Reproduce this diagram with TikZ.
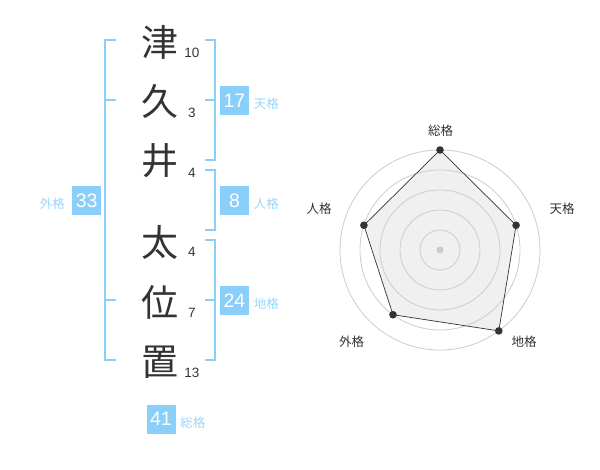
\documentclass[tikz,border=0pt]{standalone}
\usepackage{fontspec}
\setmainfont{Liberation Sans}
\newfontfamily\jp{Noto Sans CJK JP}
\usetikzlibrary{positioning}
\definecolor{kakublue}{HTML}{8ACEFA}
\definecolor{ink}{HTML}{333333}

\begin{document}
\begin{tikzpicture}[x=1pt,y=-1pt,
    %
    kanji/.style={font=\jp\fontsize{37}{37}\selectfont, text=ink, inner sep=0pt},
    stroke/.style={font=\fontsize{13.5}{13.5}\selectfont, text=ink, inner sep=0pt},
    score/.style={fill=kakublue, text=white, minimum size=29pt, inner sep=0pt,
    font=\fontsize{19.5}{19.5}\selectfont},
    kaku/.style={font=\jp\fontsize{12.5}{12.5}\selectfont, text=kakublue!85, inner sep=0pt},
    bracket/.style={draw=kakublue, line width=2pt},
    ring/.style={draw=black!20, line width=0.8pt},
    axis/.style={font=\jp\fontsize{12.5}{12.5}\selectfont, text=ink, inner sep=0pt}]
    \useasboundingbox (0,0) rectangle (600,470);
    % name
    \node[kanji] (k1) at (160,42)  {津};
    \node[kanji] (k2) at (160,101) {久};
    \node[kanji] (k3) at (160,161) {井};
    \node[kanji] (k4) at (160,242) {太};
    \node[kanji] (k5) at (160,302) {位};
    \node[kanji] (k6) at (160,362) {置};
    \node[stroke] (s1) at (192,53)  {10};
    \node[stroke] (s2) at (192,113) {3};
    \node[stroke] (s3) at (192,173) {4};
    \node[stroke] (s4) at (192,252) {4};
    \node[stroke] (s5) at (192,313) {7};
    \node[stroke] (s6) at (192,373) {13};
    % brackets
    \draw[bracket] (116,40) -- (105,40) -- (105,360) -- (116,360);
    \draw[bracket] (105,100) -- (116,100) (105,300) -- (116,300);
    \draw[bracket] (205,40) -- (215,40) -- (215,160) -- (205,160);
    \draw[bracket] (205,100) -- (215,100);
    \draw[bracket] (205,170) -- (215,170) -- (215,230) -- (205,230);
    \draw[bracket] (205,240) -- (215,240) -- (215,360) -- (205,360);
    \draw[bracket] (205,300) -- (215,300);
    % scores
    \node[score] (ten) at (234.5,100.5) {17};
    \node[kaku, right=4.5pt of ten, yshift=-3.5pt] (tenl) {天格};
    \node[score] (jin) at (234.5,200.5) {8};
    \node[kaku, right=4.5pt of jin, yshift=-3.5pt] (jinl) {人格};
    \node[score] (chi) at (234.5,300.5) {24};
    \node[kaku, right=4.5pt of chi, yshift=-3.5pt] (chil) {地格};
    \node[score] (gai) at (86.7,200.5) {33};
    \node[kaku, left=7pt of gai, yshift=-3.5pt] (gail) {外格};
    \node[score] (sou) at (161,419) {41};
    \node[kaku, right=4.5pt of sou, yshift=-3.5pt] (soul) {総格};
    % chart
    \begin{scope}[shift={(440,250)}]
        \coordinate (psou) at (270:100);
        \coordinate (pten) at (342:80);
        \coordinate (pchi) at (54:100);
        \coordinate (pgai) at (126:80);
        \coordinate (pjin) at (198:80);
        \fill[black!6] (psou) -- (pten) -- (pchi) -- (pgai) -- (pjin) -- cycle;
        \foreach \r in {20,40,60,80,100}
            \draw[ring] (0,0) circle[radius=\r];
        \fill[black!20] (0,0) circle[radius=3.5];
        \draw[ink, line width=0.7pt]
            (psou) -- (pten) -- (pchi) -- (pgai) -- (pjin) -- cycle;
        \foreach \p in {psou,pten,pchi,pgai,pjin}
            \fill[ink] (\p) circle[radius=3.8];
        \node[axis] (asou) at (0.7,-119.5) {総格};
        \node[axis] (aten) at (122,-41) {天格};
        \node[axis] (achi) at (84,92) {地格};
        \node[axis] (agai) at (-88.3,92) {外格};
        \node[axis] (ajin) at (-121,-41) {人格};
    \end{scope}
\end{tikzpicture}
\end{document}
